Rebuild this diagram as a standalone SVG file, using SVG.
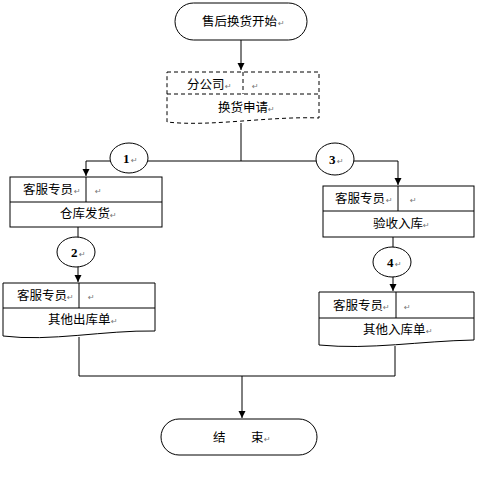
<svg xmlns="http://www.w3.org/2000/svg" width="483" height="486" viewBox="0 0 483 486">
<style>
.s{fill:#fff;stroke:#000;stroke-width:1}
.d{fill:#fff;stroke:#000;stroke-width:1;stroke-dasharray:4 3}
.ln{fill:none;stroke:#000;stroke-width:1}
.t{font-family:"Noto Sans CJK SC","Liberation Sans",sans-serif;font-size:12.5px;fill:#000}
.n{font-family:"Liberation Serif",serif;font-size:13px;font-weight:bold;fill:#000}
.p{font-family:"DejaVu Sans",sans-serif;font-size:8px;fill:#777}
</style>
<defs>
<marker id="ar" markerWidth="8" markerHeight="8" refX="7" refY="4" orient="auto" markerUnits="userSpaceOnUse">
<path d="M0,0.5 L7,4 L0,7.5 Z" fill="#000"/>
</marker>
</defs>
<rect width="483" height="486" fill="#fff"/>
<g id="connectors">
<path class="ln" d="M241,40 V70" marker-end="url(#ar)"/>
<path class="ln" d="M241,123 V161 M86,161 H398"/>
<path class="ln" d="M86,161 V176" marker-end="url(#ar)"/>
<path class="ln" d="M398,161 V185" marker-end="url(#ar)"/>
<path class="ln" d="M78,227 V282" marker-end="url(#ar)"/>
<path class="ln" d="M393,237 V291" marker-end="url(#ar)"/>
<path class="ln" d="M79,337 V376 H395 V346"/>
<path class="ln" d="M242,376 V418" marker-end="url(#ar)"/>
</g>
<g id="start">
<rect class="s" x="175" y="3" width="132" height="37" rx="18.5"/>
<text class="t" x="202" y="26">售后换货开始</text><text class="p" x="278" y="26">↵</text>
</g>
<g id="apply">
<path class="d" d="M167,72 H319 V118 C270,116 210,127 167,122 Z"/>
<path class="d" d="M167,94 H319 M243,72 V94" fill="none"/>
<text class="t" x="187" y="89">分公司</text><text class="p" x="225" y="89">↵</text>
<text class="p" x="252" y="89">↵</text>
<text class="t" x="218" y="112">换货申请</text><text class="p" x="268" y="112">↵</text>
</g>
<g id="c1">
<ellipse class="s" cx="129" cy="158" rx="19" ry="15"/>
<text class="n" x="123" y="163">1</text><text class="p" x="131" y="163">↵</text>
</g>
<g id="c3">
<ellipse class="s" cx="335" cy="159" rx="19" ry="16"/>
<text class="n" x="329" y="164">3</text><text class="p" x="337" y="164">↵</text>
</g>
<g id="box1">
<rect class="s" x="10" y="177" width="152" height="50"/>
<path class="ln" d="M10,202 H162 M86,177 V202"/>
<text class="t" x="23" y="194">客服专员</text><text class="p" x="74" y="194">↵</text>
<text class="p" x="95" y="194">↵</text>
<text class="t" x="60" y="218">仓库发货</text><text class="p" x="110" y="218">↵</text>
</g>
<g id="c2">
<ellipse class="s" cx="76" cy="252" rx="19" ry="15"/>
<text class="n" x="71" y="257">2</text><text class="p" x="79" y="257">↵</text>
</g>
<g id="box2">
<path class="s" d="M3,283 H155 V331 C105,330 50,342 3,336 Z"/>
<path class="ln" d="M3,308 H155 M79,283 V308"/>
<text class="t" x="17" y="300">客服专员</text><text class="p" x="67" y="300">↵</text>
<text class="p" x="88" y="300">↵</text>
<text class="t" x="48" y="324">其他出库单</text><text class="p" x="111" y="324">↵</text>
</g>
<g id="box3">
<rect class="s" x="323" y="186" width="151" height="51"/>
<path class="ln" d="M323,211 H474 M398,186 V211"/>
<text class="t" x="335" y="203">客服专员</text><text class="p" x="386" y="203">↵</text>
<text class="p" x="410" y="203">↵</text>
<text class="t" x="373" y="228">验收入库</text><text class="p" x="423" y="228">↵</text>
</g>
<g id="c4">
<ellipse class="s" cx="392" cy="262" rx="19" ry="15"/>
<text class="n" x="387" y="267">4</text><text class="p" x="395" y="267">↵</text>
</g>
<g id="box4">
<path class="s" d="M319,292 H474 V340 C420,341 370,350 319,345 Z"/>
<path class="ln" d="M319,318 H474 M396,292 V318"/>
<text class="t" x="333" y="310">客服专员</text><text class="p" x="383" y="310">↵</text>
<text class="p" x="404" y="310">↵</text>
<text class="t" x="363" y="334">其他入库单</text><text class="p" x="426" y="334">↵</text>
</g>
<g id="end">
<rect class="s" x="161" y="419" width="156" height="36" rx="18"/>
<text class="t" x="213" y="442">结</text>
<text class="t" x="251" y="442">束</text><text class="p" x="264" y="442">↵</text>
</g>
</svg>
